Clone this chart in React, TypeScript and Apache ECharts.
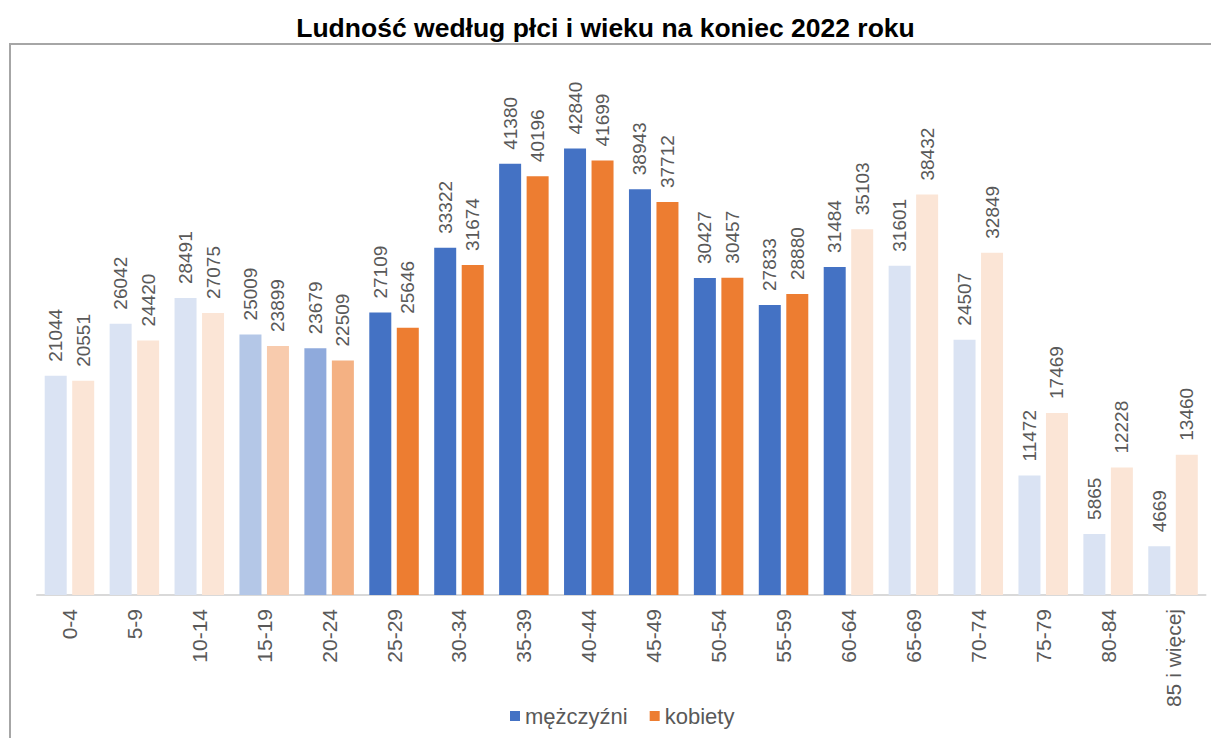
import React, { useEffect, useRef } from "react";
import * as echarts from "echarts";

const title = "Ludność według płci i wieku na koniec 2022 roku";
const categories = [
  "0-4", "5-9", "10-14", "15-19", "20-24", "25-29", "30-34", "35-39", "40-44",
  "45-49", "50-54", "55-59", "60-64", "65-69", "70-74", "75-79", "80-84", "85 i więcej",
];
const men = [21044, 26042, 28491, 25009, 23679, 27109, 33322, 41380, 42840, 38943, 30427, 27833, 31484, 31601, 24507, 11472, 5865, 4669];
const women = [20551, 24420, 27075, 23899, 22509, 25646, 31674, 40196, 41699, 37712, 30457, 28880, 35103, 38432, 32849, 17469, 12228, 13460];

// colour shade per category (styling)
const menColors = [
  "#dae3f3", "#dae3f3", "#dae3f3", "#b4c7e7", "#8faadc", "#4472c4", "#4472c4", "#4472c4", "#4472c4",
  "#4472c4", "#4472c4", "#4472c4", "#4472c4", "#dae3f3", "#dae3f3", "#dae3f3", "#dae3f3", "#dae3f3",
];
const womenColors = [
  "#fbe5d6", "#fbe5d6", "#fbe5d6", "#f8cbad", "#f4b183", "#ed7d31", "#ed7d31", "#ed7d31", "#ed7d31",
  "#ed7d31", "#ed7d31", "#ed7d31", "#fbe5d6", "#fbe5d6", "#fbe5d6", "#fbe5d6", "#fbe5d6", "#fbe5d6",
];

const FONT = "'Liberation Sans', Arial, sans-serif";
const GRAY = "#595959";

export default function App() {
  const ref = useRef<HTMLDivElement>(null);
  useEffect(() => {
    if (!ref.current) return;
    const chart = echarts.init(ref.current, null, { renderer: "svg" });
    const label = {
      show: true,
      position: "top",
      rotate: 90,
      align: "left",
      verticalAlign: "middle",
      distance: 14,
      color: GRAY,
      fontSize: 19,
      fontFamily: FONT,
    };
    chart.setOption({
      animation: false,
      backgroundColor: "#ffffff",
      title: {
        text: title,
        left: "center",
        top: 14,
        padding: 0,
        textStyle: { fontFamily: FONT, fontWeight: "bold", fontSize: 26.5, color: "#000000" },
      },
      graphic: [
        {
          type: "rect",
          shape: { x: 10, y: 44, width: 1300, height: 800 },
          style: { fill: "none", stroke: "#a6a6a6", lineWidth: 2 },
          silent: true,
          z: -10,
        },
      ],
      legend: {
        data: ["mężczyźni", "kobiety"],
        left: 505,
        top: 700,
        itemWidth: 10,
        itemHeight: 10,
        itemGap: 22,
        icon: "rect",
        textStyle: { fontFamily: FONT, fontSize: 22, color: GRAY },
      },
      grid: { left: 37, right: 5.5, top: 74, bottom: 143, containLabel: false },
      xAxis: {
        type: "category",
        data: categories,
        axisTick: { show: false },
        axisLine: { lineStyle: { color: "#d9d9d9", width: 2 } },
        axisLabel: {
          rotate: 90,
          interval: 0,
          margin: 14,
          color: GRAY,
          fontSize: 21,
          fontFamily: FONT,
        },
      },
      yAxis: {
        type: "value",
        min: 0,
        max: 50000,
        show: false,
        splitLine: { show: false },
      },
      series: [
        {
          name: "mężczyźni",
          type: "bar",
          barWidth: 22,
          barGap: "25%",
          itemStyle: { color: "#4472c4" },
          label,
          data: men.map((v, i) => ({ value: v, itemStyle: { color: menColors[i] } })),
        },
        {
          name: "kobiety",
          type: "bar",
          barWidth: 22,
          barGap: "25%",
          itemStyle: { color: "#ed7d31" },
          label,
          data: women.map((v, i) => ({ value: v, itemStyle: { color: womenColors[i] } })),
        },
      ],
    });
    return () => chart.dispose();
  }, []);
  return (
    <div
      ref={ref}
      style={{ position: "fixed", left: 0, top: 0, width: 1211, height: 738, background: "#fff" }}
    />
  );
}
